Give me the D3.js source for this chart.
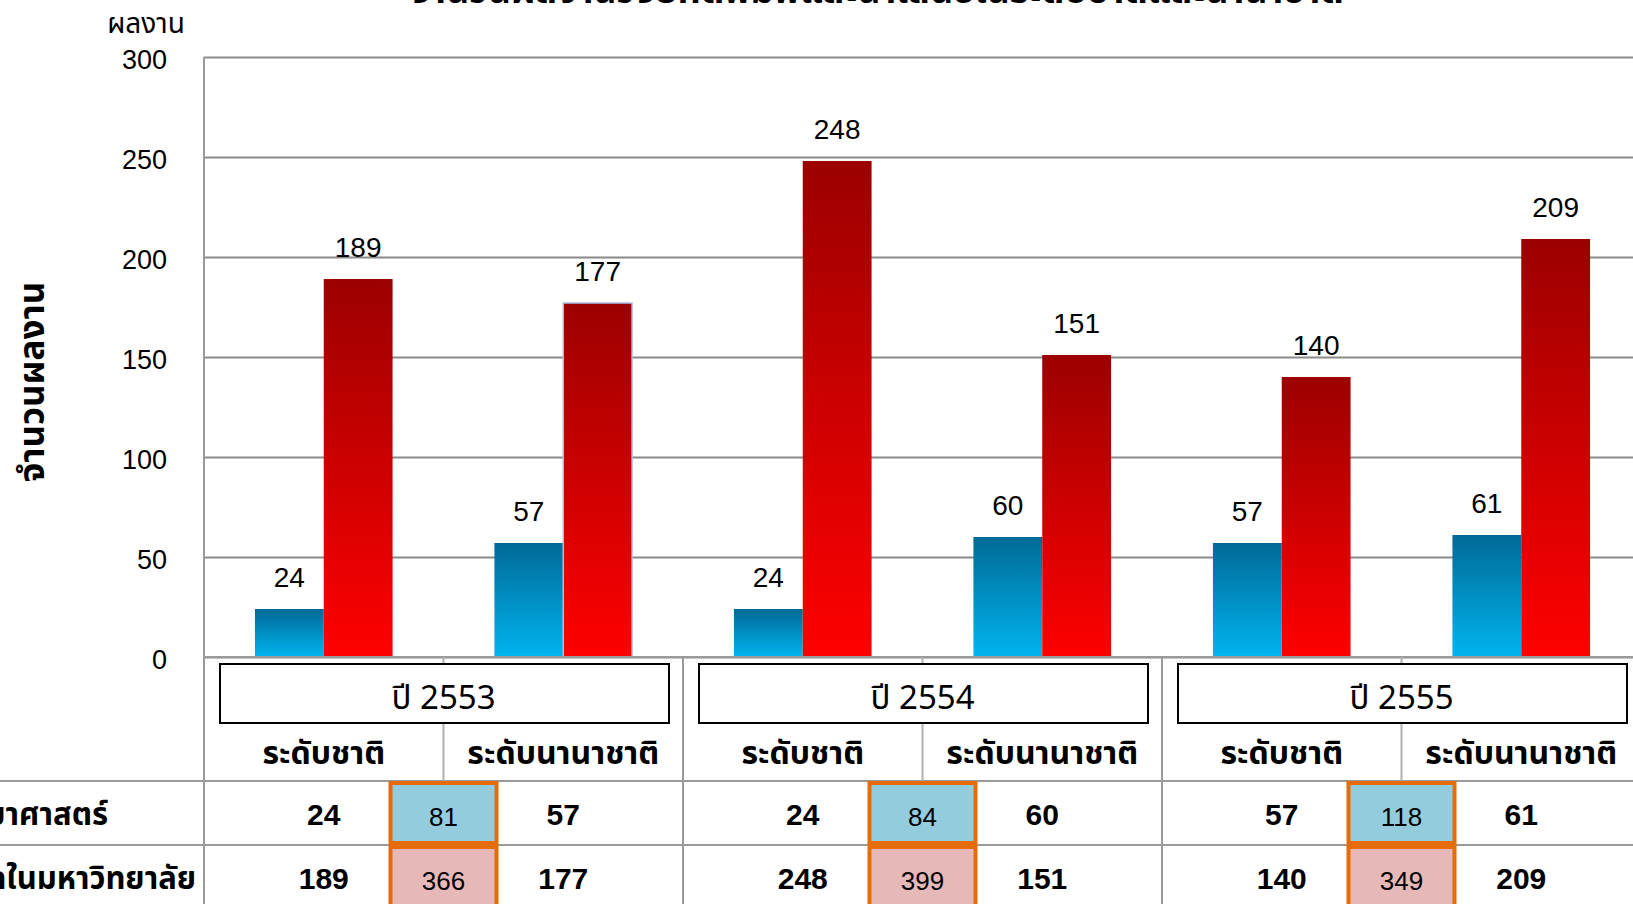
<!DOCTYPE html>
<html>
<head>
<meta charset="utf-8">
<script src="https://cdn.jsdelivr.net/npm/d3@7"></script>
<style>
  body { margin: 0; background: #fff; overflow: hidden; }
  svg { display: block; }
  text { font-family: "Noto Sans Thai", "Noto Sans", "Liberation Sans", sans-serif; fill: #000; }
  .num { font-family: "Liberation Sans", "Noto Sans", sans-serif; }
</style>
</head>
<body>
<svg id="chart" width="1633" height="904"></svg>
<script>
// values
const years = ['2553', '2554', '2555']
const levels = ['ระดับชาติ', 'ระดับนานาชาติ']
const sciValues = [24, 57, 24, 60, 57, 61]       // คณะวิทยาศาสตร์
const uniValues = [189, 177, 248, 151, 140, 209] // ทั้งมหาวิทยาลัย
const sciTotals = [81, 84, 118]
const uniTotals = [366, 399, 349]
const yTicks = [0, 50, 100, 150, 200, 250, 300]
const rowLabels = ['คณะวิทยาศาสตร์', 'ผลงานทั้งหมดในมหาวิทยาลัย']
const titleText = 'จำนวนผลงานวิจัยที่ตีพิมพ์และนำเสนอในระดับชาติและนานาชาติ'

function draw() {
  const svg = d3.select('#chart')

  const margin = { top: 57, left: 204, bottom: 657 }
  const plotRight = 1641

  const cats = []
  years.forEach((yr, yi) => levels.forEach((lv, li) => {
    const i = yi * levels.length + li
    cats.push({ key: yr + '-' + li, year: yr, level: lv, sci: sciValues[i], uni: uniValues[i] })
  }))

  const xScale = d3.scaleBand()
    .domain(cats.map(d => d.key))
    .range([margin.left, plotRight])
    .padding(0)

  const xSeries = d3.scaleBand()
    .domain(['sci', 'uni'])
    .range([0, xScale.bandwidth()])
    .paddingInner(0)
    .paddingOuter(0.74)

  const yScale = d3.scaleLinear()
    .domain([0, 300])
    .range([margin.bottom, margin.top])

  // gradients
  const defs = svg.append('defs')
  const grad = (id, top, bottom) => {
    const g = defs.append('linearGradient').attr('id', id)
      .attr('x1', 0).attr('y1', 0).attr('x2', 0).attr('y2', 1)
    g.append('stop').attr('offset', '0%').attr('stop-color', top)
    g.append('stop').attr('offset', '100%').attr('stop-color', bottom)
  }
  grad('gBlue', '#006a96', '#00b4f0')
  grad('gRed', '#9c0000', '#ff0000')

  // title (cut off by the top edge)
  svg.append('text')
    .text(titleText)
    .attr('x', 877)
    .attr('y', 3)
    .attr('text-anchor', 'middle')
    .attr('font-size', 36)
    .attr('font-weight', 'bold')

  // grid + y axis
  const leftAxis = d3.axisLeft(yScale)
    .tickValues(yTicks)
    .tickSize(-(plotRight - margin.left))
    .tickPadding(37)

  const axisG = svg.append('g')
    .attr('transform', `translate(${margin.left}, 0)`)
    .call(leftAxis)
  axisG.select('.domain').remove()
  axisG.selectAll('.tick line').attr('stroke', '#8a8a8a').attr('stroke-width', 2)
  axisG.selectAll('.tick text')
    .attr('class', 'num')
    .attr('font-size', 27)
    .attr('dy', '0.42em')
    .attr('fill', '#1a1a1a')

  svg.append('text')
    .text('ผลงาน')
    .attr('x', 146).attr('y', 33)
    .attr('text-anchor', 'middle')
    .attr('font-size', 28)

  svg.append('text')
    .text('จำนวนผลงาน')
    .attr('transform', 'translate(44, 382) rotate(-90)')
    .attr('text-anchor', 'middle')
    .attr('font-size', 35)
    .attr('font-weight', 'bold')

  // bars
  const bars = svg.append('g')
  const series = [
    { key: 'sci', fill: 'url(#gBlue)' },
    { key: 'uni', fill: 'url(#gRed)' }
  ]
  series.forEach(s => {
    bars.selectAll('rect.' + s.key)
      .data(cats)
      .enter()
      .append('rect')
      .attr('class', s.key)
      .attr('x', d => xScale(d.key) + xSeries(s.key))
      .attr('y', d => yScale(d[s.key]))
      .attr('width', xSeries.bandwidth())
      .attr('height', d => yScale(0) - yScale(d[s.key]))
      .attr('fill', s.fill)

    bars.selectAll('text.' + s.key)
      .data(cats)
      .enter()
      .append('text')
      .attr('class', 'num')
      .attr('x', d => xScale(d.key) + xSeries(s.key) + xSeries.bandwidth() / 2)
      .attr('y', d => yScale(d[s.key]) - 22)
      .attr('text-anchor', 'middle')
      .attr('font-size', 28)
      .attr('fill', '#1a1a1a')
      .text(d => d[s.key])
  })

  // selection outline seen on one bar in the reference
  const sel = cats[1]
  bars.append('rect')
    .attr('x', xScale(sel.key) + xSeries('uni'))
    .attr('y', yScale(sel.uni))
    .attr('width', xSeries.bandwidth())
    .attr('height', yScale(0) - yScale(sel.uni))
    .attr('fill', 'none')
    .attr('stroke', '#a9c0ea')
    .attr('stroke-width', 1.5)

  // data table under the plot
  const table = svg.append('g')
  const rowTop = 781
  const rowH = 64
  const lineColor = '#9a9a9a'
  const yearStart = years.map((yr, yi) => xScale(cats[yi * 2].key))
  const yearW = xScale.bandwidth() * 2

  const hLine = (x1, x2, y) => table.append('line')
    .attr('x1', x1).attr('x2', x2).attr('y1', y).attr('y2', y)
    .attr('stroke', lineColor).attr('stroke-width', 2)
  const vLine = (x, y1, y2, c) => table.append('line')
    .attr('x1', x).attr('x2', x).attr('y1', y1).attr('y2', y2)
    .attr('stroke', c || lineColor).attr('stroke-width', 2)

  hLine(margin.left, plotRight, margin.bottom)
  hLine(0, plotRight, rowTop)
  hLine(0, plotRight, rowTop + rowH)
  hLine(0, plotRight, rowTop + rowH * 2)
  vLine(margin.left, margin.top, 904)
  yearStart.slice(1).forEach(x => vLine(x, margin.bottom, 904))
  vLine(plotRight, margin.bottom, 904)
  yearStart.forEach(x => vLine(x + xScale.bandwidth(), margin.bottom, rowTop, '#b0b0b0'))

  // year boxes
  years.forEach((yr, yi) => {
    table.append('rect')
      .attr('x', yearStart[yi] + 16)
      .attr('y', 664)
      .attr('width', yearW - 30)
      .attr('height', 59)
      .attr('fill', '#fff')
      .attr('stroke', '#000')
      .attr('stroke-width', 2)
    table.append('text')
      .text('ปี ' + yr)
      .attr('x', yearStart[yi] + yearW / 2)
      .attr('y', 709)
      .attr('text-anchor', 'middle')
      .attr('font-size', 33)
  })

  // level labels
  table.selectAll('text.level')
    .data(cats)
    .enter()
    .append('text')
    .attr('class', 'level')
    .attr('x', d => xScale(d.key) + xScale.bandwidth() / 2)
    .attr('y', 764)
    .attr('text-anchor', 'middle')
    .attr('font-size', 32)
    .attr('font-weight', 'bold')
    .text(d => d.level)

  // value rows
  const rows = [
    { key: 'sci', totals: sciTotals, fill: '#93cddd' },
    { key: 'uni', totals: uniTotals, fill: '#e6b9b8' }
  ]
  const labelEnds = [108, 196]
  rows.forEach((r, ri) => {
    const top = rowTop + ri * rowH
    table.append('text')
      .text(rowLabels[ri])
      .attr('x', labelEnds[ri])
      .attr('y', top + 44)
      .attr('text-anchor', 'end')
      .attr('font-size', 31)
      .attr('font-weight', 'bold')

    table.selectAll('text.v' + r.key)
      .data(cats)
      .enter()
      .append('text')
      .attr('class', 'num')
      .attr('x', d => xScale(d.key) + xScale.bandwidth() / 2)
      .attr('y', top + 44)
      .attr('text-anchor', 'middle')
      .attr('font-size', 30)
      .attr('font-weight', 'bold')
      .text(d => d[r.key])

    years.forEach((yr, yi) => {
      const cx = yearStart[yi] + xScale.bandwidth()
      table.append('rect')
        .attr('x', cx - 53)
        .attr('y', top + 2)
        .attr('width', 106)
        .attr('height', rowH - 4)
        .attr('fill', r.fill)
        .attr('stroke', '#e46c0a')
        .attr('stroke-width', 4)
      table.append('text')
        .attr('class', 'num')
        .attr('x', cx)
        .attr('y', top + 45)
        .attr('text-anchor', 'middle')
        .attr('font-size', 26)
        .attr('fill', '#1a1a1a')
        .text(r.totals[yi])
    })
  })
}

draw()
</script>
</body>
</html>
